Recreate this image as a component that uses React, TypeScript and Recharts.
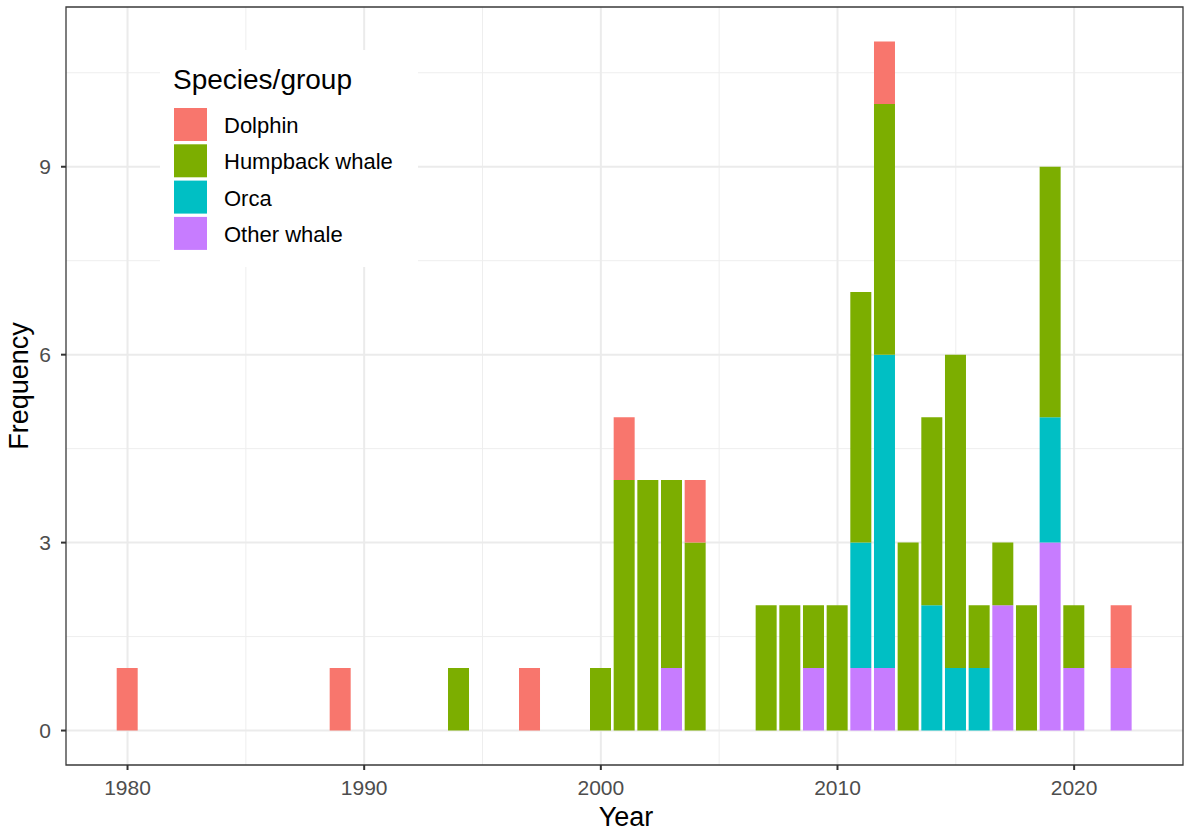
import { Bar, BarChart, CartesianGrid, ReferenceArea, XAxis, YAxis } from "recharts";

// sightings per year, split by species/group (years with no records left out)
const years = [1980, 1989, 1994, 1997, 2000, 2001, 2002, 2003, 2004, 2007, 2008, 2009, 2010, 2011, 2012, 2013, 2014, 2015, 2016, 2017, 2018, 2019, 2020, 2022];
const dolphin = [1, 1, 0, 1, 0, 1, 0, 0, 1, 0, 0, 0, 0, 0, 1, 0, 0, 0, 0, 0, 0, 0, 0, 1];
const humpback = [0, 0, 1, 0, 1, 4, 4, 3, 3, 2, 2, 1, 2, 4, 4, 3, 3, 5, 1, 1, 2, 4, 1, 0];
const orca = [0, 0, 0, 0, 0, 0, 0, 0, 0, 0, 0, 0, 0, 2, 5, 0, 2, 1, 1, 0, 0, 2, 0, 0];
const otherWhale = [0, 0, 0, 0, 0, 0, 0, 1, 0, 0, 0, 1, 0, 1, 1, 0, 0, 0, 0, 2, 0, 3, 1, 1];

const xTicks = [1980, 1990, 2000, 2010, 2020];
const xMinor = [1985, 1995, 2005, 2015];
const yTicks = [0, 3, 6, 9];
const yMinor = [1.5, 4.5, 7.5, 10.5];
const xDomain: [number, number] = [1977.4, 2024.6];
const yDomain: [number, number] = [-0.55, 11.55];

// legend order (top to bottom); stacking is the reverse
const species = [
  { key: "dolphin", name: "Dolphin", color: "#F8766D" },
  { key: "humpback", name: "Humpback whale", color: "#7CAE00" },
  { key: "orca", name: "Orca", color: "#00BFC4" },
  { key: "other", name: "Other whale", color: "#C77CFF" },
];

const rows = years.map((year, i) => ({
  year,
  dolphin: dolphin[i],
  humpback: humpback[i],
  orca: orca[i],
  other: otherWhale[i],
}));

const FONT = '"Liberation Sans", Arial, Helvetica, sans-serif';

export default function App() {
  const stackOrder = [...species].reverse();
  return (
    <div style={{ position: "relative", width: 1184, height: 836, background: "#fff", fontFamily: FONT }}>
      <style>{"body{margin:0}"}</style>
      <BarChart width={1184} height={836} data={rows} margin={{ top: 7, right: 1, bottom: 0, left: 0 }} style={{ fontFamily: FONT }}>
        <CartesianGrid verticalValues={xMinor} horizontalValues={yMinor} stroke="#EEEEEE" strokeWidth={1} />
        <CartesianGrid verticalValues={xTicks} horizontalValues={yTicks} stroke="#EBEBEB" strokeWidth={2} />
        <XAxis
          dataKey="year"
          type="number"
          domain={xDomain}
          ticks={xTicks}
          allowDataOverflow
          height={71}
          tickSize={5}
          tickMargin={10}
          axisLine={false}
          tickLine={{ stroke: "#333333", strokeWidth: 2 }}
          tick={{ fill: "#4D4D4D", fontSize: 21, fontFamily: FONT }}
        />
        <YAxis
          type="number"
          domain={yDomain}
          ticks={yTicks}
          allowDataOverflow
          width={66}
          tickSize={5}
          tickMargin={10}
          axisLine={false}
          tickLine={{ stroke: "#333333", strokeWidth: 2 }}
          tick={{ fill: "#4D4D4D", fontSize: 21, fontFamily: FONT }}
        />
        {stackOrder.map((s) => (
          <Bar key={s.key} dataKey={s.key} name={s.name} stackId="n" fill={s.color} barSize={21} isAnimationActive={false} />
        ))}
        <ReferenceArea x1={xDomain[0]} x2={xDomain[1]} y1={yDomain[0]} y2={yDomain[1]} fill="none" stroke="#3a3a3a" strokeWidth={1.3} ifOverflow="visible" />
      </BarChart>
      <svg width={1184} height={836} style={{ position: "absolute", left: 0, top: 0, pointerEvents: "none" }}>
        <text x={626} y={826} textAnchor="middle" fontSize={27} fill="#000" fontFamily={FONT}>Year</text>
        <text x={28} y={386} textAnchor="middle" fontSize={27} fill="#000" fontFamily={FONT} transform="rotate(-90 28 386)">Frequency</text>
        <rect x={160} y={50} width={258} height={217} fill="#fff" />
        <text x={173} y={89} fontSize={28} fill="#000" fontFamily={FONT}>Species/group</text>
        {species.map((s, i) => (
          <g key={s.key}>
            <rect x={174} y={108 + i * 36.3} width={33} height={33} fill={s.color} />
            <text x={224} y={108 + i * 36.3 + 25} fontSize={22} fill="#000" fontFamily={FONT}>{s.name}</text>
          </g>
        ))}
      </svg>
    </div>
  );
}
